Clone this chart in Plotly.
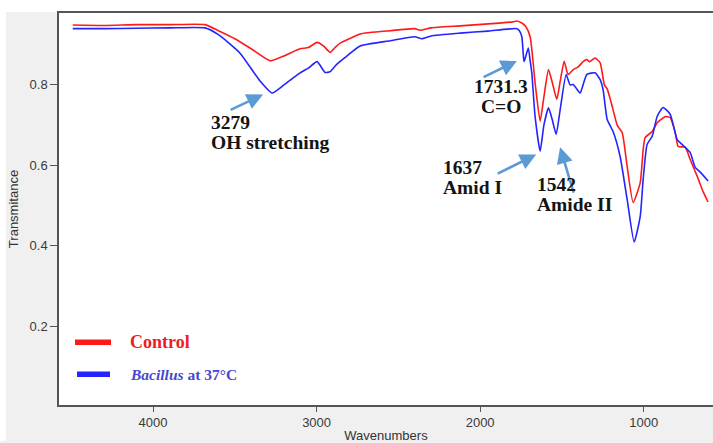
import plotly.graph_objects as go

# ---- data (wavenumber cm^-1, transmittance) ----
control_wn = [4491, 4300, 4100, 3900, 3682, 3600, 3500, 3400, 3284, 3200, 3101, 3050, 2997, 2960,
              2917, 2890, 2856, 2800, 2734, 2550, 2400, 2367, 2300, 2122, 1950, 1800, 1776, 1745,
              1720, 1694, 1664, 1633, 1610, 1582, 1555, 1531, 1510, 1486, 1462, 1431, 1400, 1370,
              1348, 1330, 1297, 1266, 1240, 1223, 1187, 1162, 1131, 1101, 1064, 1021, 1003, 991,
              948, 917, 869, 838, 807, 789, 746, 716, 673, 636, 606]
control_t = [0.949, 0.948, 0.950, 0.950, 0.950, 0.935, 0.915, 0.890, 0.860, 0.872, 0.890, 0.893, 0.906, 0.898,
             0.881, 0.892, 0.904, 0.915, 0.927, 0.935, 0.940, 0.936, 0.942, 0.947, 0.952, 0.957, 0.959, 0.954,
             0.945, 0.920, 0.806, 0.710, 0.770, 0.838, 0.800, 0.764, 0.810, 0.859, 0.826, 0.838, 0.845, 0.858,
             0.863, 0.858, 0.867, 0.855, 0.800, 0.790, 0.738, 0.700, 0.681, 0.597, 0.507, 0.557, 0.639, 0.669,
             0.684, 0.706, 0.721, 0.719, 0.682, 0.647, 0.645, 0.615, 0.573, 0.534, 0.509]

bacillus_wn = [4491, 4300, 4100, 3900, 3682, 3600, 3468, 3350, 3272, 3200, 3101, 3050, 2997, 2948,
               2917, 2880, 2820, 2734, 2550, 2400, 2357, 2300, 2122, 1950, 1776, 1760, 1745, 1735,
               1731, 1715, 1705, 1694, 1684, 1664, 1633, 1610, 1582, 1560, 1535, 1510, 1474, 1450,
               1431, 1400, 1388, 1347, 1297, 1266, 1248, 1223, 1187, 1144, 1101, 1058, 1021, 1003,
               979, 948, 917, 881, 838, 795, 765, 716, 685, 654, 606]
bacillus_t = [0.940, 0.940, 0.941, 0.942, 0.942, 0.925, 0.879, 0.812, 0.780, 0.800, 0.830, 0.842, 0.858, 0.831,
              0.833, 0.850, 0.870, 0.897, 0.910, 0.920, 0.915, 0.922, 0.929, 0.934, 0.940, 0.935, 0.920, 0.870,
              0.858, 0.880, 0.892, 0.860, 0.830, 0.722, 0.635, 0.700, 0.743, 0.715, 0.677, 0.740, 0.826, 0.800,
              0.801, 0.785, 0.780, 0.826, 0.830, 0.813, 0.788, 0.714, 0.684, 0.622, 0.515, 0.409, 0.473, 0.565,
              0.652, 0.672, 0.722, 0.744, 0.727, 0.664, 0.652, 0.632, 0.595, 0.583, 0.561]

x_ticks = [4000, 3000, 2000, 1000]
y_ticks = [0.2, 0.4, 0.6, 0.8]

series_names = ["Control", "<i>Bacillus</i> at 37°C"]
series_colors = ["#ff1a1a", "#2424ff"]
legend_text_colors = ["#ee1c24", "#4646d2"]

# peak annotations
peak_tip_wn = [3327, 1774, 1657, 1511]
peak_tip_t = [0.776, 0.860, 0.627, 0.645]
peak_arrow_dx = [-34, -35, -40, 14]
peak_arrow_dy = [16, 17, 20, 47]
peak_labels = [["3279", "OH stretching"], ["1731.3", "C=O"], ["1637", "Amid I"], ["1542", "Amide II"]]
peak_label_wn = [3660, 1872, 2240, 1666]
peak_label_t = [[0.7066, 0.6563], [0.797, 0.7475], [0.5938, 0.5442], [0.5529, 0.5033]]
peak_label_anchor = ["left", "center", "left", "left"]

W, H = 713, 443
ML, MR, MT, MB = 59, 0, 13, 36
PW, PH = W - ML - MR, H - MT - MB

fig = go.Figure()
fig.add_trace(go.Scatter(x=control_wn, y=control_t, mode="lines", name="Control",
                         line=dict(color=series_colors[0], width=1.6, shape="spline", smoothing=0.5),
                         showlegend=False))
fig.add_trace(go.Scatter(x=bacillus_wn, y=bacillus_t, mode="lines", name="Bacillus at 37°C",
                         line=dict(color=series_colors[1], width=1.6, shape="spline", smoothing=0.5),
                         showlegend=False))

annotations = []
for i in range(len(peak_tip_wn)):
    annotations.append(dict(x=peak_tip_wn[i], y=peak_tip_t[i], xref="x", yref="y", text="",
                            showarrow=True, ax=peak_arrow_dx[i], ay=peak_arrow_dy[i],
                            arrowcolor="#5b9bd5", arrowwidth=2.6, arrowhead=2, arrowsize=1.25,
                            standoff=0, startstandoff=0))
    for line, ty in zip(peak_labels[i], peak_label_t[i]):
        annotations.append(dict(x=peak_label_wn[i], y=ty, xref="x", yref="y", text="<b>%s</b>" % line,
                                showarrow=False, xanchor=peak_label_anchor[i], yanchor="middle",
                                font=dict(family="Liberation Serif", size=19.5, color="#141414")))

# legend (manual)
leg_y_px = [344, 376]
leg_x0_px = [75, 77]
leg_x1_px = [111, 110]
leg_sizes = [18, 15.5]
shapes = [
    dict(type="rect", xref="paper", yref="paper", x0=-ML / PW, x1=1.01, y0=1 + 1 / PH, y1=1 + MT / PH,
         fillcolor="white", line=dict(width=0), layer="below"),
    dict(type="rect", xref="paper", yref="paper", x0=-ML / PW, x1=(6 - ML) / PW, y0=-MB / PH, y1=1 + MT / PH,
         fillcolor="white", line=dict(width=0), layer="below"),
]
for i in range(2):
    yp = (H - MB - leg_y_px[i]) / PH
    shapes.append(dict(type="line", xref="paper", yref="paper",
                       x0=(leg_x0_px[i] - ML) / PW, x1=(leg_x1_px[i] - ML) / PW, y0=yp, y1=yp,
                       line=dict(color=series_colors[i], width=5.5)))
    annotations.append(dict(x=(128 - ML) / PW, y=yp, xref="paper", yref="paper",
                            text="<b>%s</b>" % series_names[i], showarrow=False,
                            xanchor="left", yanchor="middle",
                            font=dict(family="Liberation Serif", size=leg_sizes[i], color=legend_text_colors[i])))

axis_font = dict(family="Liberation Sans", size=13, color="#3a3a3a")
fig.update_layout(
    width=W, height=H,
    margin=dict(l=ML, r=MR, t=MT, b=MB, pad=0),
    paper_bgcolor="#f0f0f0",
    plot_bgcolor="white",
    shapes=shapes,
    annotations=annotations,
    xaxis=dict(range=[4575, 576], tickvals=x_ticks, ticks="outside", ticklen=5, tickwidth=1.2,
               tickcolor="#555", showline=True, linecolor="#555", linewidth=1.5, mirror=True,
               showgrid=False, zeroline=False, tickfont=axis_font,
               title=dict(text="Wavenumbers", font=dict(family="Liberation Sans", size=13, color="#333"),
                          standoff=4)),
    yaxis=dict(range=[0.0035, 0.979], tickvals=y_ticks, tickformat=".1f", ticks="outside", ticklen=7,
               tickwidth=1.2, tickcolor="#555", showline=True, linecolor="#555", linewidth=1.5,
               showgrid=False, zeroline=False, tickfont=axis_font,
               title=dict(text="Transmitance", font=dict(family="Liberation Sans", size=13, color="#333"),
                          standoff=8)),
)

fig.write_html("out.html")
